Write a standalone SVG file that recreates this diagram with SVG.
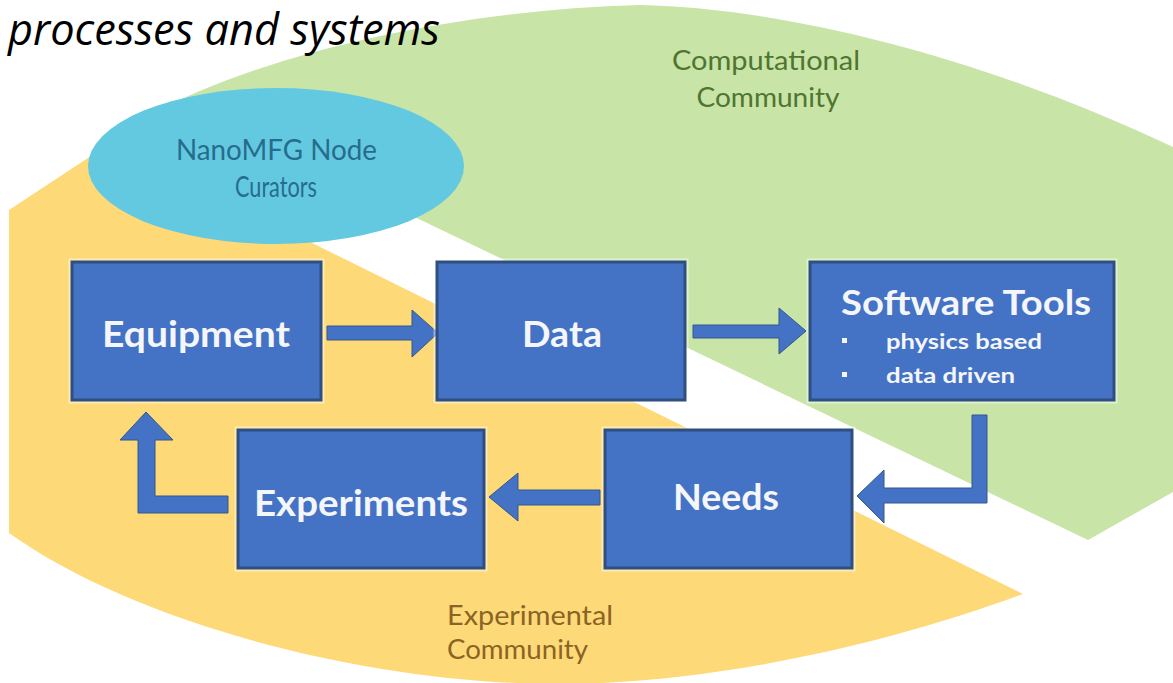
<svg xmlns="http://www.w3.org/2000/svg" width="1173" height="683" viewBox="0 0 1173 683">
  <style>
    .halo { fill: none; stroke: #FFFFFF; stroke-opacity: 0.45; stroke-width: 7; }
    .box { fill: #4472C4; stroke: #2F4F80; stroke-width: 3; }
    .arrow { fill: #4472C4; stroke: #34578F; stroke-width: 1; stroke-linejoin: miter; }
    .lbl { font-family: Lato, "Liberation Sans", sans-serif; font-weight: 700; fill: #F4F6FB; text-anchor: middle; }
    .sub { font-family: Lato, "Liberation Sans", sans-serif; font-weight: 700; fill: #F4F6FB; }
    .comm { font-family: Lato, "Liberation Sans", sans-serif; font-size: 27px; }
    .cur { font-family: Lato, "Liberation Sans", sans-serif; font-size: 28px; fill: #266C8C; text-anchor: middle; }
  </style>

  <rect x="0" y="0" width="1173" height="683" fill="#FFFFFF"/>

  <!-- community regions -->
  <g id="computational-community">
    <path d="M150,115 C260,55 450,10 640,5 C790,8 990,60 1173,147 L1173,492 L1088,540 L400,210 Z" fill="#C8E4A6"/>
    <text class="comm" x="766" y="70" fill="#4F7530" text-anchor="middle" textLength="188" lengthAdjust="spacingAndGlyphs">Computational</text>
    <text class="comm" x="768" y="107" fill="#4F7530" text-anchor="middle" textLength="143" lengthAdjust="spacingAndGlyphs">Community</text>
  </g>

  <g id="experimental-community">
    <path d="M9,210 L100,150 L300,237 L1023,594 C900,640 720,684 560,684 C360,684 130,620 9,533 Z" fill="#FDD978"/>
    <text class="comm" x="447" y="625" fill="#8A6424" textLength="166" lengthAdjust="spacingAndGlyphs">Experimental</text>
    <text class="comm" x="447" y="659" fill="#8A6424" textLength="141" lengthAdjust="spacingAndGlyphs">Community</text>
  </g>

  <g id="curators">
    <ellipse cx="276" cy="166" rx="188" ry="78" fill="#63C9E1"/>
    <text class="cur" x="276.5" y="160" textLength="201" lengthAdjust="spacingAndGlyphs">NanoMFG Node</text>
    <text class="cur" x="276" y="197" textLength="82" lengthAdjust="spacingAndGlyphs">Curators</text>
  </g>

  <!-- heading line -->
  <text x="8" y="45" font-family="'Open Sans', 'Liberation Sans', sans-serif" font-style="italic" font-size="43" fill="#000000" textLength="432" lengthAdjust="spacingAndGlyphs">processes and systems</text>

  <!-- connectors -->
  <g id="connectors">
    <path class="arrow" d="M327,326 L412,326 L412,310 L438,333 L412,357 L412,340 L327,340 Z"/>
    <path class="arrow" d="M693,325 L779,325 L779,308 L806,331 L779,354 L779,338 L693,338 Z"/>
    <path class="arrow" d="M972,415 L987,415 L987,503 L884,503 L884,523 L857,496 L884,470 L884,488 L972,488 Z"/>
    <path class="arrow" d="M600,490 L518,490 L518,473 L489,497 L518,521 L518,505 L600,505 Z"/>
    <path class="arrow" d="M228,496 L228,513 L138,513 L138,440 L120,440 L146,412 L173,440 L155,440 L155,496 Z"/>
  </g>

  <!-- process nodes -->
  <g id="equipment">
    <rect class="halo" x="72" y="262" width="249" height="138"/>
    <rect class="box" x="72" y="262" width="249" height="138"/>
    <text class="lbl" x="196" y="347" font-size="36" textLength="188" lengthAdjust="spacingAndGlyphs">Equipment</text>
  </g>

  <g id="data">
    <rect class="halo" x="437" y="262" width="248" height="138"/>
    <rect class="box" x="437" y="262" width="248" height="138"/>
    <text class="lbl" x="562" y="347" font-size="36" textLength="80" lengthAdjust="spacingAndGlyphs">Data</text>
  </g>

  <g id="software-tools">
    <rect class="halo" x="810" y="262" width="304" height="138"/>
    <rect class="box" x="810" y="262" width="304" height="138"/>
    <text class="lbl" x="966" y="315" font-size="35" textLength="250" lengthAdjust="spacingAndGlyphs">Software Tools</text>
    <rect x="842" y="338" width="5" height="5" fill="#F4F6FB"/>
    <text class="sub" x="886" y="349" font-size="20" textLength="156" lengthAdjust="spacingAndGlyphs">physics based</text>
    <rect x="842" y="372" width="5" height="5" fill="#F4F6FB"/>
    <text class="sub" x="886" y="383" font-size="20" textLength="129" lengthAdjust="spacingAndGlyphs">data driven</text>
  </g>

  <g id="experiments">
    <rect class="halo" x="238" y="430" width="246" height="138"/>
    <rect class="box" x="238" y="430" width="246" height="138"/>
    <text class="lbl" x="361" y="516" font-size="36" textLength="214" lengthAdjust="spacingAndGlyphs">Experiments</text>
  </g>

  <g id="needs">
    <rect class="halo" x="605" y="430" width="247" height="138"/>
    <rect class="box" x="605" y="430" width="247" height="138"/>
    <text class="lbl" x="726" y="510" font-size="36" textLength="106" lengthAdjust="spacingAndGlyphs">Needs</text>
  </g>
</svg>
